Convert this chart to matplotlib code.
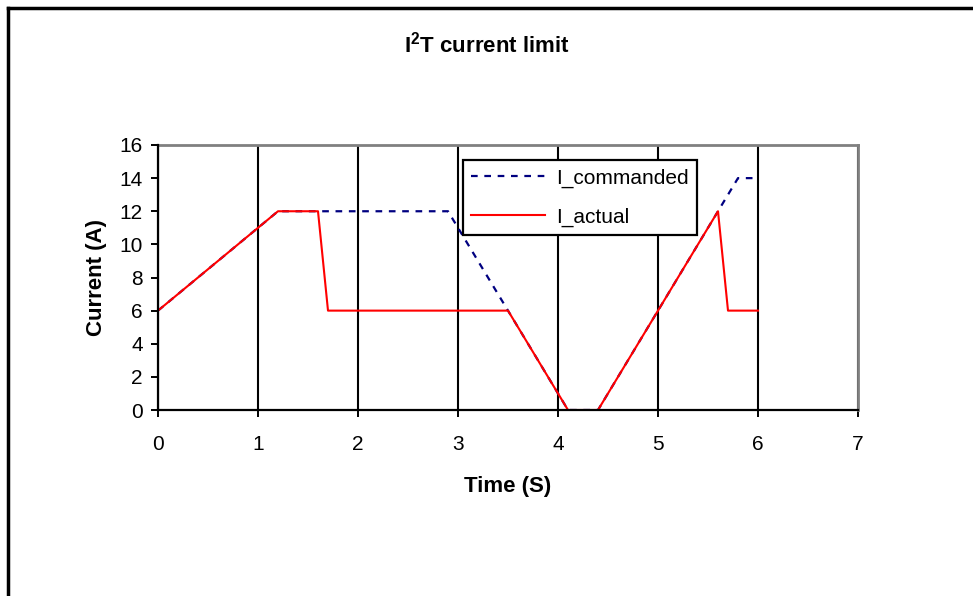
import numpy as np
import matplotlib
matplotlib.use("Agg")
import matplotlib.pyplot as plt
from matplotlib.lines import Line2D

plt.rcParams['font.family'] = ['Liberation Sans', 'DejaVu Sans']
plt.rcParams['mathtext.fontset'] = 'custom'
plt.rcParams['mathtext.rm'] = 'Liberation Sans'
plt.rcParams['mathtext.bf'] = 'Liberation Sans:bold'

# breakpoints
t_cmd = [0, 1.2, 2.9, 4.1, 4.4, 5.8, 6.0]
i_cmd = [6, 12, 12, 0, 0, 14, 14]
t_act = [0, 1.2, 1.6, 1.7, 3.5, 4.1, 4.4, 5.6, 5.7, 6.0]
i_act = [6, 12, 12, 6, 6, 0, 0, 12, 6, 6]

fig = plt.figure(figsize=(9.73, 5.96), dpi=100)
ax = fig.add_axes([158/973, 186/596, 700/973, 265/596])

ax.plot(t_cmd, i_cmd, color='#000080', linestyle=(0, (3, 3)), linewidth=1.6,
        label='I_commanded', zorder=3)
ax.plot(t_act, i_act, color='#ff0000', linewidth=1.5, label='I_actual', zorder=4)

ax.set_xlim(0, 7)
ax.set_ylim(0, 16)
ax.set_xticks(range(0, 8))
ax.set_yticks(range(0, 17, 2))
ax.tick_params(direction='out', length=5, width=1.4, labelsize=15, colors='black')
ax.tick_params(axis='x', pad=13)
ax.tick_params(axis='y', pad=6)
ax.grid(axis='x', color='black', linewidth=1.5)
ax.set_axisbelow(True)

for s in ['top', 'right']:
    ax.spines[s].set_color('#808080')
    ax.spines[s].set_linewidth(2)
for s in ['left', 'bottom']:
    ax.spines[s].set_color('black')
    ax.spines[s].set_linewidth(1.6)
    ax.spines[s].set_zorder(5)

ax.set_xlabel('Time (S)', fontsize=16, fontweight='bold', labelpad=16)
ax.set_ylabel('Current (A)', fontsize=16, fontweight='bold', labelpad=9)

leg = ax.legend(loc='upper left', bbox_to_anchor=(305/700, 250/265), fontsize=15,
                fancybox=False, edgecolor='black', framealpha=1, borderpad=0.4,
                handlelength=3.55, handletextpad=0.5, labelspacing=0.95, borderaxespad=0)
leg.get_frame().set_linewidth(1.6)
leg.set_zorder(6)

fig.text(0.5, 1 - 53/596, r'I$^{\mathbf{2}}$T current limit', ha='center', va='baseline',
         fontsize=16, fontweight='bold')

# outer chart border (left and top only, as in the cropped original)
fig.add_artist(Line2D([8/973, 8/973], [0, 1 - 8/596], transform=fig.transFigure,
                      color='black', linewidth=2.5))
fig.add_artist(Line2D([8/973, 1], [1 - 8/596, 1 - 8/596], transform=fig.transFigure,
                      color='black', linewidth=2.5))

fig.savefig('out.png', dpi=100)
